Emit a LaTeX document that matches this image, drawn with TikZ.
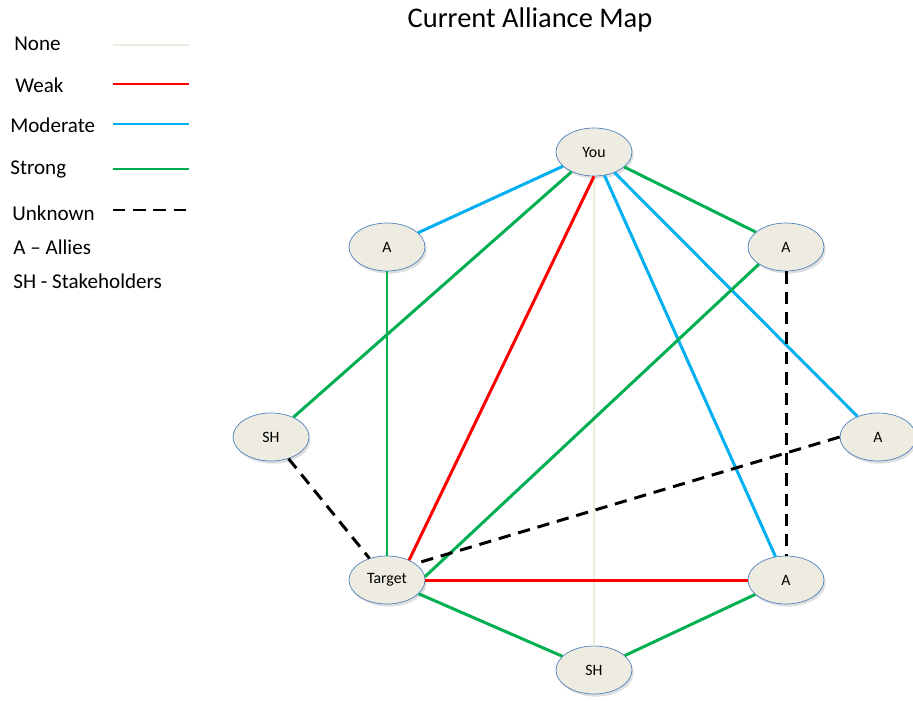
\documentclass[tikz,border=0pt]{standalone}
\usepackage{fontspec}
\setmainfont{Carlito}
\usetikzlibrary{shapes.geometric,shadows}
\definecolor{nodef}{HTML}{EEECE1}
\definecolor{nodeb}{HTML}{4F81BD}
\definecolor{cnone}{HTML}{EEECE1}
\definecolor{cweak}{HTML}{FF0000}
\definecolor{cmod}{HTML}{00B0F0}
\definecolor{cstrong}{HTML}{00B050}

\begin{document}
\begin{tikzpicture}[x=0.02cm,y=-0.02cm,
  actor/.style={ellipse,draw=nodeb,fill=nodef,thin,minimum width=1.52cm,minimum height=0.96cm,inner sep=0pt,
    font=\fontsize{9}{10}\selectfont,drop shadow={opacity=0.25,shadow xshift=1pt,shadow yshift=-1.5pt}},
  key/.style={anchor=west,inner sep=0pt,font=\fontsize{12}{14}\selectfont},
  lnone/.style={cnone,line width=1.7pt},
  lweak/.style={cweak,line width=1.7pt},
  lmod/.style={cmod,line width=1.7pt},
  lstrong/.style={cstrong,line width=1.7pt},
  lunk/.style={black,line width=1.7pt,dash pattern=on 7pt off 4.5pt}]
\useasboundingbox (0,0) rectangle (913,700);
\node[font=\fontsize{16.2}{19}\selectfont] (title) at (530,20) {Current Alliance Map};
% legend
\node[key] (kNone) at (14,44) {None};
\node[key] (kWeak) at (15,85) {Weak};
\node[key] (kMod) at (10,125) {Moderate};
\node[key] (kStrong) at (10,169) {Strong};
\node[key] (kUnk) at (12,213) {Unknown};
\node[key] (kA) at (13,247) {A -- Allies};
\node[key] (kSH) at (13,281) {SH - Stakeholders};
\foreach \n/\y in {None/45,Weak/84,Mod/124,Strong/169,Unk/210} {
  \coordinate (\n1) at (113,\y);
  \coordinate (\n2) at (189,\y);
}
\draw[lnone] (None1) -- (None2);
\draw[lweak] (Weak1) -- (Weak2);
\draw[lmod] (Mod1) -- (Mod2);
\draw[lstrong] (Strong1) -- (Strong2);
\draw[lunk] (Unk1) -- (Unk2);
% actors
\node[actor] (you) at (594,152) {You};
\node[actor] (a1) at (387,247) {A};
\node[actor] (a2) at (786,247) {A};
\node[actor] (sh1) at (271,437) {SH};
\node[actor] (a3) at (878,437) {A};
\node[actor] (tgt) at (387,580) {Target};
\node[actor] (a4) at (786,580) {A};
\node[actor] (sh2) at (594,670) {SH};
% links
\draw[lnone] (you) -- (sh2);
\draw[lmod] (you) -- (a1);
\draw[lstrong] (you) -- (sh1);
\draw[lweak] (you.south) -- (tgt.42);
\draw[lstrong] (you) -- (a2);
\draw[lmod] (you) -- (a3);
\draw[lmod] (you) -- (a4);
\draw[lstrong] (a1) -- (tgt);
\draw[lstrong] (a2.south west) -- (tgt.5);
\draw[lunk] (a2) -- (a4);
\draw[lunk] (a3.west) -- (tgt.30);
\draw[lunk] (sh1) -- (tgt);
\draw[lweak] (tgt) -- (a4);
\draw[lstrong] (tgt) -- (sh2);
\draw[lstrong] (a4) -- (sh2);
\end{tikzpicture}
\end{document}
